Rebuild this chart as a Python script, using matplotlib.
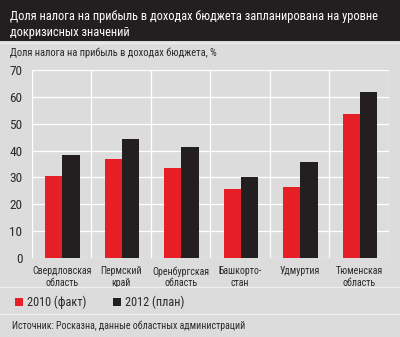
import matplotlib
matplotlib.use("Agg")
import matplotlib.pyplot as plt
from matplotlib.patches import Rectangle
import numpy as np

categories = ["Свердловская\nобласть", "Пермский\nкрай", "Оренбургская\nобласть",
              "Башкорто-\nстан", "Удмуртия", "Тюменская\nобласть"]
fact_2010 = [30.6, 36.7, 33.4, 25.6, 26.3, 53.5]
plan_2012 = [38.3, 44.2, 41.2, 30.0, 35.6, 61.9]
yticks = [0, 10, 20, 30, 40, 50, 60, 70]
series_names = ["2010 (факт)", "2012 (план)"]

plt.rcParams['font.family'] = ["Roboto Condensed", "DejaVu Sans"]

BG = "#dcdcdc"
RED = "#e61e25"
BLACK = "#231f20"
TXT = "#2a2a2a"

fig = plt.figure(figsize=(4.0, 3.37), dpi=100)
fig.patch.set_facecolor(BG)

# title box
fig.patches.append(Rectangle((0, 1 - 41/337), 1, 41/337, transform=fig.transFigure,
                             facecolor=BLACK, edgecolor="none", zorder=0))
fig.text(10/400, 1 - 20/337, "Доля налога на прибыль в доходах бюджета запланирована на уровне",
         color="white", fontsize=8.9, va="baseline", ha="left")
fig.text(10/400, 1 - 36/337, "докризисных значений",
         color="white", fontsize=8.9, va="baseline", ha="left")
fig.text(10/400, 1 - 56/337, "Доля налога на прибыль в доходах бюджета, %",
         color=TXT, fontsize=7.6, va="baseline", ha="left")

# separator lines
for yy in [43, 287, 314]:
    fig.add_artist(plt.Line2D([0, 1], [1 - yy/337, 1 - yy/337], transform=fig.transFigure,
                              color="#f0f0f0", lw=0.8))

ax = fig.add_axes([32/400, 1 - 258/337, (389 - 32)/400, (258 - 70)/337])
ax.set_facecolor(BG)
x = np.arange(len(categories))
w = 0.29
ax.bar(x - w/2 + 0.01, fact_2010, width=w, color=RED, zorder=3)
ax.bar(x + w/2 + 0.01, plan_2012, width=w, color=BLACK, zorder=3)

ax.set_xlim(-0.5, len(categories) - 0.5)
ax.set_ylim(0, 70)
ax.set_yticks(yticks)
ax.set_yticklabels([str(t) for t in yticks])
ax.set_xticks(x)
ax.set_xticklabels(categories, linespacing=1.2)
ax.set_xticks(np.arange(-0.5, len(categories)), minor=True)
ax.grid(True, axis="y", color="white", lw=0.9, zorder=0)
ax.grid(True, axis="x", which="minor", color="white", lw=0.9, zorder=0)
ax.grid(False, axis="x", which="major")
for s in ax.spines.values():
    s.set_visible(False)
ax.tick_params(axis="both", which="both", length=0, colors=TXT, labelsize=7.1)
ax.tick_params(axis="y", pad=7, labelsize=9.5)
ax.tick_params(axis="x", pad=6)

# legend
fig.patches.append(Rectangle((15/400, 1 - 306/337), 8/400, 8/337, transform=fig.transFigure,
                             facecolor=RED, edgecolor="none"))
fig.text(27/400, 1 - 306/337, series_names[0], color=TXT, fontsize=8.8, va="baseline")
fig.patches.append(Rectangle((113/400, 1 - 306/337), 8/400, 8/337, transform=fig.transFigure,
                             facecolor=BLACK, edgecolor="none"))
fig.text(125/400, 1 - 306/337, series_names[1], color=TXT, fontsize=8.8, va="baseline")

fig.text(12/400, 1 - 329/337, "Источник: Росказна, данные областных администраций",
         color=TXT, fontsize=7.1, va="baseline")

fig.savefig("out.png", dpi=100, facecolor=BG)
